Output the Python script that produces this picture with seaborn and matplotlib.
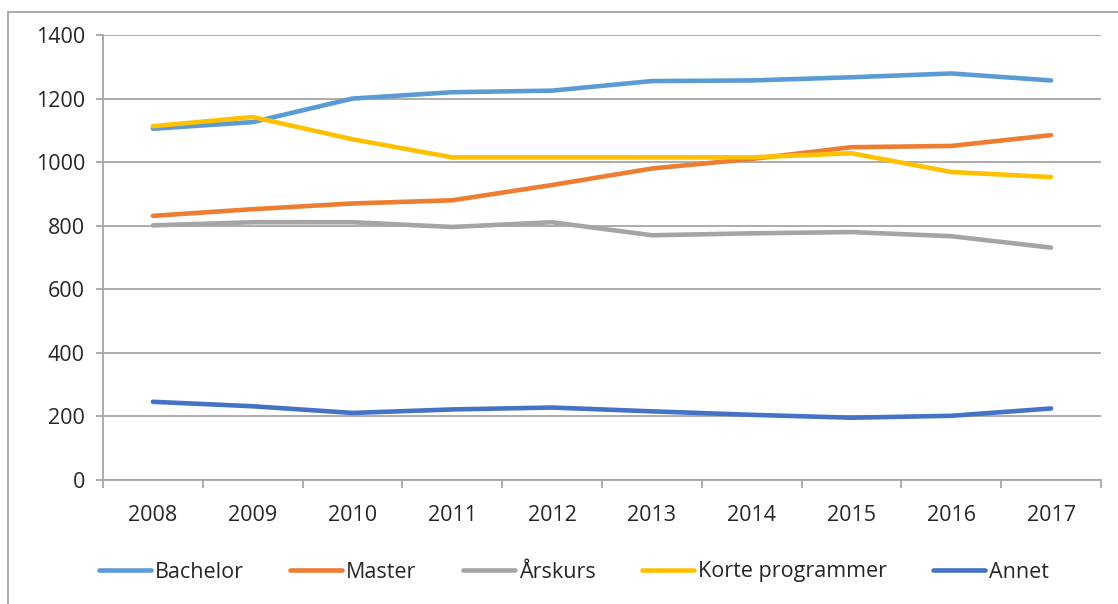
import pandas as pd
import matplotlib.pyplot as plt
import seaborn as sns
from matplotlib.patches import Rectangle
from matplotlib.ticker import FixedLocator

# Data
years = ["2008", "2009", "2010", "2011", "2012", "2013", "2014", "2015", "2016", "2017"]
bachelor = [1105, 1126, 1200, 1220, 1225, 1255, 1257, 1267, 1279, 1257]
master = [831, 852, 870, 880, 928, 980, 1010, 1047, 1051, 1085]
arskurs = [801, 811, 811, 796, 811, 770, 776, 780, 767, 731]
korte = [1113, 1142, 1072, 1015, 1015, 1015, 1015, 1028, 969, 953]
annet = [246, 232, 211, 222, 228, 216, 205, 196, 202, 225]

series = ["Bachelor", "Master", "Årskurs", "Korte programmer", "Annet"]
values = [bachelor, master, arskurs, korte, annet]
colors = ["#5B9BD5", "#ED7D31", "#A5A5A5", "#FFC000", "#4472C4"]

df = pd.DataFrame({
    "År": years * len(series),
    "Antall": [v for vals in values for v in vals],
    "Type": [s for s in series for _ in years],
})

sns.set_theme(style="white")
plt.rcParams["font.family"] = ["Open Sans", "DejaVu Sans"]

fig = plt.figure(figsize=(11.18, 6.04), dpi=100)
ax = fig.add_axes([103 / 1118, 1 - 480 / 604, 998 / 1118, 445 / 604])

sns.lineplot(data=df, x="År", y="Antall", hue="Type", hue_order=series,
             palette=colors, linewidth=3.3, sort=False, ax=ax, legend=False)

ax.set_xlim(-0.5, 9.5)
ax.set_ylim(0, 1400)
ax.set_yticks(range(0, 1401, 200))
ax.set_xlabel("")
ax.set_ylabel("")
ax.yaxis.grid(True, color="#A6A6A6", linewidth=1.3)
ax.set_axisbelow(True)

for side in ["top", "right"]:
    ax.spines[side].set_visible(False)
for side in ["left", "bottom"]:
    ax.spines[side].set_color("#A6A6A6")
    ax.spines[side].set_linewidth(1.3)

ax.tick_params(axis="y", which="major", length=5, width=1.3, color="#A6A6A6",
               labelsize=15.5, pad=8, left=True)
ax.tick_params(axis="x", which="major", length=0, labelsize=15.5, pad=18)
ax.xaxis.set_minor_locator(FixedLocator([i - 0.5 for i in range(11)]))
ax.tick_params(axis="x", which="minor", length=6, width=1.3, color="#A6A6A6",
               bottom=True)

# Legend
handles = [plt.Line2D([], [], color=c, linewidth=3.3) for c in colors]
fig.legend(handles, series, loc="center", bbox_to_anchor=(574 / 1118, 1 - 572 / 604),
           ncol=5, frameon=False, fontsize=15.5, handlelength=2.4,
           handletextpad=0.2, columnspacing=2.15)

# Chart border (cut off at the right and bottom)
fig.patches.append(Rectangle((8 / 1118, -0.1), 1.2, 1 - 12 / 604 + 0.1,
                             transform=fig.transFigure, fill=False,
                             edgecolor="#A6A6A6", linewidth=1.3))

plt.savefig("out.png", dpi=100)
plt.close()
